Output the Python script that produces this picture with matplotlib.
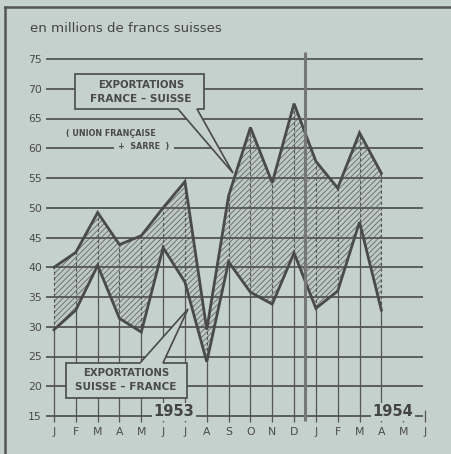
import matplotlib
matplotlib.use("Agg")
import matplotlib.pyplot as plt
from matplotlib.patches import Polygon
from matplotlib.lines import Line2D
import numpy as np

# ---- data ----
months = ["J", "F", "M", "A", "M", "J", "J", "A", "S", "O", "N", "D",
          "J", "F", "M", "A", "M", "J"]
france_suisse = [40, 42.5, 49.2, 43.8, 45.3, 50, 54.4, 29.5, 52, 63.5, 54.2, 67.5,
                 57.8, 53.3, 62.6, 55.8]
suisse_france = [29.5, 32.8, 40.3, 31.4, 29.1, 43.3, 37.5, 24.1, 40.9, 35.8, 33.8, 42.4,
                 33.1, 36, 47.6, 32.8]
yticks = [15, 20, 25, 30, 35, 40, 45, 50, 55, 60, 65, 70, 75]

BG = "#c5d1cd"
INK = "#4a4a4a"
GRID = "#555555"

plt.rcParams["hatch.linewidth"] = 0.6
plt.rcParams["hatch.color"] = "#666666"

W, H = 452, 454
fig = plt.figure(figsize=(W / 100, H / 100), dpi=100, facecolor=BG)

# axes placed so that month 0 -> 54px, month 17 -> 425px, 75 -> 59px, 15 -> 416px
pxm = (425 - 54) / 17.0
pxv = (416 - 59) / 60.0
lpx, rpx, tpx, bpx = 46, 430, 52, 424
ax = fig.add_axes([lpx / W, 1 - bpx / H, (rpx - lpx) / W, (bpx - tpx) / H])
ax.set_facecolor(BG)
ax.set_xlim((lpx - 54) / pxm, (rpx - 54) / pxm)
ax.set_ylim(15 - (bpx - 416) / pxv, 75 + (59 - tpx) / pxv)
for s in ax.spines.values():
    s.set_visible(False)

x = np.arange(len(france_suisse))
n = len(months)

# horizontal gridlines
ax.hlines(yticks, (46 - 54) / pxm, (423 - 54) / pxm, color=GRID, lw=1.3, zorder=3)

# vertical month lines
for i in range(n):
    if i < len(france_suisse):
        ax.vlines(i, 14.0, suisse_france[i], color=GRID, lw=0.9, zorder=1)
        ax.vlines(i, suisse_france[i], france_suisse[i], color=GRID, lw=0.8,
                  linestyles=(0, (3, 2)), zorder=3)
    else:
        ax.vlines(i, 14.0, 16.0, color=GRID, lw=0.9, zorder=1)

# hatched band
ax.fill_between(x, suisse_france, france_suisse, facecolor="#bdc9c5",
                edgecolor="#666666", hatch="//////", lw=0, zorder=2)
ax.plot(x, france_suisse, color=INK, lw=2.0, zorder=5, solid_joinstyle="miter")
ax.plot(x, suisse_france, color=INK, lw=2.0, zorder=5, solid_joinstyle="miter")

# year separator
ax.vlines(11.5, 14.2, 76.2, color="#777777", lw=2.2, zorder=6)

# ticks
ax.set_yticks(yticks)
ax.set_yticklabels([str(v) for v in yticks])
ax.set_xticks(range(n))
ax.set_xticklabels(months)
ax.tick_params(axis="y", length=0, pad=3, labelsize=7.8, labelcolor="#4a4a4a")
ax.tick_params(axis="x", length=0, pad=2, labelsize=7.8, labelcolor="#4a4a4a")


def d(px, py):
    return ((px - 54) / pxm, 75 - (py - 59) / pxv)


# speech bubble 1
b1 = [d(75, 74), d(204, 74), d(204, 109), d(197, 109), d(233, 173),
      d(178, 109), d(75, 109)]
ax.add_patch(Polygon(b1, closed=True, facecolor=BG, edgecolor=INK, lw=1.2,
                     zorder=7, joinstyle="miter"))
tx, ty = d(141, 85)
ax.text(tx, ty, "EXPORTATIONS", ha="center", va="center", fontsize=7.3,
        fontweight="bold", color="#4a4a4a", zorder=8)
tx, ty = d(141, 99)
ax.text(tx, ty, "FRANCE \u2013 SUISSE", ha="center", va="center", fontsize=7.6,
        fontweight="bold", color="#4a4a4a", zorder=8)

# speech bubble 2
b2 = [d(66, 363), d(140, 363), d(188, 309), d(163, 363), d(187, 363),
      d(187, 398), d(66, 398)]
ax.add_patch(Polygon(b2, closed=True, facecolor=BG, edgecolor=INK, lw=1.2,
                     zorder=7, joinstyle="miter"))
tx, ty = d(126, 373)
ax.text(tx, ty, "EXPORTATIONS", ha="center", va="center", fontsize=7.3,
        fontweight="bold", color="#4a4a4a", zorder=8)
tx, ty = d(126, 387)
ax.text(tx, ty, "SUISSE \u2013 FRANCE", ha="center", va="center", fontsize=7.6,
        fontweight="bold", color="#4a4a4a", zorder=8)

# union française note
tx, ty = d(111, 134)
ax.text(tx, ty, "( UNION FRANÇAISE", ha="center", va="center", fontsize=5.8,
        fontweight="bold", color="#4a4a4a", zorder=8,
        bbox=dict(facecolor=BG, edgecolor="none", pad=1.5))
tx, ty = d(144, 147)
ax.text(tx, ty, "+  SARRE  )", ha="center", va="center", fontsize=5.8,
        fontweight="bold", color="#4a4a4a", zorder=8,
        bbox=dict(facecolor=BG, edgecolor="none", pad=3))

# years
tx, ty = d(174, 412)
ax.text(tx, ty, "1953", ha="center", va="center", fontsize=10.5,
        fontweight="bold", color="#444444", zorder=8,
        bbox=dict(facecolor=BG, edgecolor="none", pad=1))
tx, ty = d(393, 412)
ax.text(tx, ty, "1954", ha="center", va="center", fontsize=10.5,
        fontweight="bold", color="#444444", zorder=8,
        bbox=dict(facecolor=BG, edgecolor="none", pad=1))

# title
fig.text(30 / W, 1 - 28 / H, "en millions de francs suisses", ha="left",
         va="center", fontsize=9.6, color="#444444")

# frame
fig.add_artist(Line2D([5 / W, 1], [1 - 7 / H, 1 - 7 / H], color="#555555", lw=1.8))
fig.add_artist(Line2D([5 / W, 5 / W], [1 - 7 / H, 0], color="#555555", lw=1.8))

fig.savefig("out.png", dpi=100, facecolor=BG)
